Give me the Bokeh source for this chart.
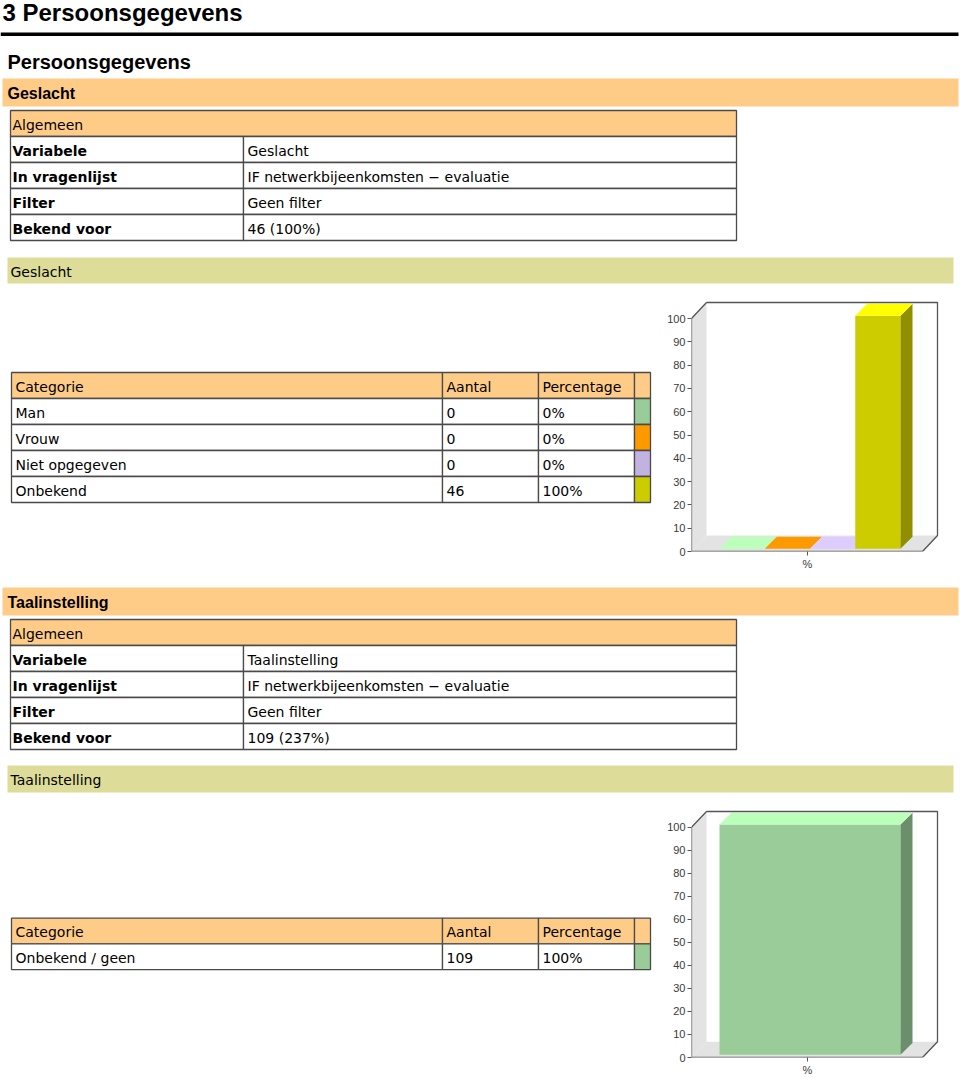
from bokeh.plotting import figure
from bokeh.layouts import column, row
from bokeh.models import Range1d, FixedTicker, CustomJSTickFormatter
from bokeh.core.properties import value
from bokeh.embed import file_html
from bokeh.resources import INLINE

# ---------------- data ----------------
PAGE_TITLE = "3 Persoonsgegevens"
SECTION_TITLE = "Persoonsgegevens"
INFO_HEADER = "Algemeen"
INFO_LABELS = ["Variabele", "In vragenlijst", "Filter", "Bekend voor"]

GESLACHT_TITLE = "Geslacht"
GESLACHT_INFO = ["Geslacht", "IF netwerkbijeenkomsten \u2212 evaluatie", "Geen filter", "46 (100%)"]
GENDER_CATS = ["Man", "Vrouw", "Niet opgegeven", "Onbekend"]
GENDER_COUNTS = [0, 0, 0, 46]
GENDER_PCTS = [0, 0, 0, 100]
GENDER_FRONT = ["#99CC99", "#FF9900", "#C2B2E2", "#CCCC00"]
GENDER_TOP = ["#BBFFBB", "#FF9900", "#DDCCFF", "#FFFF00"]
GENDER_SIDE = ["#6B8F6B", "#B36B00", "#887CA0", "#8F8F00"]

TAAL_TITLE = "Taalinstelling"
TAAL_INFO = ["Taalinstelling", "IF netwerkbijeenkomsten \u2212 evaluatie", "Geen filter", "109 (237%)"]
TAAL_CATS = ["Onbekend / geen"]
TAAL_COUNTS = [109]
TAAL_PCTS = [100]
TAAL_FRONT = ["#99CC99"]
TAAL_TOP = ["#BBFFBB"]
TAAL_SIDE = ["#6B8F6B"]

CAT_HEADERS = ["Categorie", "Aantal", "Percentage"]
Y_TICKS = [0, 10, 20, 30, 40, 50, 60, 70, 80, 90, 100]
X_LABEL = "%"

# ---------------- styles ----------------
S = 1.0
ORANGE = "#FFCC88"
OLIVE = "#DDDD99"
BORDER = "#4A4A4A"
DOC_FONT = value("DejaVu Sans")
HEAD_FONT = value("Liberation Sans")


def fs(px):
    return f"{px * S:.2f}px"


def doc_fig(x0, y0, w, h, mbt=0, mbb=0):
    p = figure(width=w, height=h,
               x_range=Range1d(x0, x0 + w / S),
               y_range=Range1d(y0 + (h - mbb) / S, y0 + mbt / S),
               x_axis_type=None, y_axis_type=None, min_border=0,
               min_border_top=mbt, min_border_bottom=mbb,
               output_backend="svg", toolbar_location=None)
    p.outline_line_color = None
    p.background_fill_color = "white"
    p.border_fill_color = "white"
    return p


def txt(p, xs, ys, texts, size=14, font=DOC_FONT, bold=False, color="black"):
    # ys are baselines; place the text by its middle
    ym = [y - 0.35 * size for y in ys]
    p.text(x=xs, y=ym, text=texts, text_font=font, text_font_size=fs(size),
           text_font_style="bold" if bold else "normal", text_color=color,
           text_baseline="middle", text_align="left")


def band(p, x0, x1, y0, y1, color, label, bold, size, font, tx, ty):
    p.quad(left=[x0], right=[x1], top=[y0], bottom=[y1], fill_color=color, line_color=None)
    txt(p, [tx], [ty], [label], size=size, font=font, bold=bold)


def info_table(p, top, labels, values):
    x0, xs, x1, rh = 10, 243, 736, 26
    L, R, T, B, F = [x0], [x1], [top], [top + rh], [ORANGE]
    for i in range(len(labels)):
        t = top + rh * (i + 1)
        L += [x0, xs]; R += [xs, x1]; T += [t, t]; B += [t + rh, t + rh]; F += ["white", "white"]
    p.quad(left=L, right=R, top=T, bottom=B, fill_color=F, line_color=BORDER, line_width=1.3)
    txt(p, [x0 + 2], [top + 19.5], [INFO_HEADER])
    ys = [top + rh * (i + 1) + 19.5 for i in range(len(labels))]
    txt(p, [x0 + 2] * len(labels), ys, labels, bold=True)
    txt(p, [xs + 4] * len(values), ys, values)


def cat_table(p, top, cats, counts, pcts, colors):
    cols = [11, 442, 538, 634, 650]
    rh = 26
    L, R, T, B, F = [], [], [], [], []
    for r in range(len(cats) + 1):
        t = top + rh * r
        for c in range(4):
            L.append(cols[c]); R.append(cols[c + 1]); T.append(t); B.append(t + rh)
            if r == 0:
                F.append(ORANGE)
            else:
                F.append(colors[r - 1] if c == 3 else "white")
    p.quad(left=L, right=R, top=T, bottom=B, fill_color=F, line_color=BORDER, line_width=1.3)
    txt(p, [cols[0] + 4, cols[1] + 4, cols[2] + 4], [top + 19] * 3, CAT_HEADERS)
    ys = [top + rh * (i + 1) + 19 for i in range(len(cats))]
    txt(p, [cols[0] + 4] * len(cats), ys, cats)
    txt(p, [cols[1] + 4] * len(cats), ys, [str(c) for c in counts])
    txt(p, [cols[2] + 4] * len(cats), ys, [f"{v}%" for v in pcts])


def chart_fig(W, H, mbl, mbr, mbt, mbb, pcts, fronts, tops, sides):
    n = len(pcts)
    frame_w = W - mbl - mbr
    frame_h = H - mbt - mbb
    ppu_y = 233 * S / 100.0          # screen px per percent
    px_slot = 181 * S / n            # screen px per bar slot
    x_start = -0.5 - 25.5 * S / px_slot
    x_end = x_start + frame_w / px_slot
    y_end = frame_h / ppu_y
    x_axis_r = x_start + 231 * S / px_slot

    def dx(px):
        return px * S / px_slot

    def dy(px):
        return px * S / ppu_y

    p = figure(width=W, height=H, x_range=Range1d(x_start, x_end), y_range=Range1d(0, y_end),
               min_border_left=mbl, min_border_right=mbr, min_border_top=mbt, min_border_bottom=mbb,
               output_backend="svg", toolbar_location=None)
    p.grid.visible = False
    p.outline_line_color = None
    p.yaxis.ticker = FixedTicker(ticks=Y_TICKS)
    p.xaxis.ticker = FixedTicker(ticks=[(n - 1) / 2.0])
    p.xaxis.formatter = CustomJSTickFormatter(code=f"return '{X_LABEL}';")
    for ax in (p.xaxis, p.yaxis):
        ax.axis_line_color = None
        ax.major_tick_in = 0
        ax.major_tick_out = 4
        ax.major_tick_line_color = "#555555"
        ax.minor_tick_line_color = None
        ax.major_label_standoff = 2
        ax.major_label_text_font = "Liberation Sans"
        ax.major_label_text_font_size = fs(11)
        ax.major_label_text_color = "#3A3A3A"

    wx, wy = dx(15), dy(16)
    top_v = 100
    # left wall and floor
    p.patches(xs=[[x_start, x_start + wx, x_start + wx, x_start],
                  [x_start, x_start + wx, x_axis_r + wx, x_axis_r]],
              ys=[[0, wy, top_v + wy, top_v],
                  [0, wy, wy, 0]],
              fill_color="#E3E3E3", line_color=None)

    # bars (front, side, top faces)
    fx, fy = dx(2.5), dy(2.7)
    bx, by = dx(12), dy(12)
    xs, ys, cs = [], [], []
    for i, v in enumerate(pcts):
        l = i - 0.5 + fx
        r = i + 0.5 + fx
        b = fy
        t = v + fy
        xs.append([l, r, r, l]); ys.append([b, b, t, t]); cs.append(fronts[i])
        xs.append([r, r + bx, r + bx, r]); ys.append([b, b + by, t + by, t]); cs.append(sides[i])
        xs.append([l, l + bx, r + bx, r]); ys.append([t, t + by, t + by, t]); cs.append(tops[i])
    p.patches(xs=xs, ys=ys, fill_color=cs, line_color=None)

    # outlines of the 3D box
    lc = "#555555"
    p.line(x=[x_start + wx, x_axis_r + wx, x_axis_r + wx, x_axis_r, x_start, x_start, x_start + wx],
           y=[top_v + wy, top_v + wy, wy, 0, 0, top_v, top_v + wy],
           line_color=lc, line_width=1.3)
    return p


# ---------------- layout ----------------
W_LEFT, W_CHART = 652, 308
H_A, H_B, H_C, H_D = 296, 284, 226, 272
y_a = 0.0
y_b = H_A / S
y_c = (H_A + H_B) / S
y_d = (H_A + H_B + H_C) / S
B_MBT, B_MBB = 4, 29
D_MBT, D_MBB = 3, 18

# Section A
pa = doc_fig(0, y_a, W_LEFT + W_CHART, H_A)
txt(pa, [2], [20], [PAGE_TITLE], size=24, font=HEAD_FONT, bold=True)
pa.quad(left=[0], right=[958], top=[32], bottom=[35.5], fill_color="black", line_color=None)
txt(pa, [7], [68.5], [SECTION_TITLE], size=20, font=HEAD_FONT, bold=True)
band(pa, 2, 958, 78, 106, ORANGE, GESLACHT_TITLE, True, 16, HEAD_FONT, 7, 99)
info_table(pa, 110, INFO_LABELS, GESLACHT_INFO)
band(pa, 7, 953, 257, 283, OLIVE, GESLACHT_TITLE, False, 14, DOC_FONT, 10, 276)

# Row B
pb = doc_fig(0, y_b, W_LEFT, H_B, B_MBT, B_MBB)
cat_table(pb, 372, GENDER_CATS, GENDER_COUNTS, GENDER_PCTS, GENDER_FRONT)
cb = chart_fig(W_CHART, H_B, 39, 14, B_MBT, B_MBB, GENDER_PCTS, GENDER_FRONT, GENDER_TOP, GENDER_SIDE)

# Section C
pc = doc_fig(0, y_c, W_LEFT + W_CHART, H_C)
band(pc, 2, 958, 587, 615, ORANGE, TAAL_TITLE, True, 16, HEAD_FONT, 7, 608)
info_table(pc, 619, INFO_LABELS, TAAL_INFO)
band(pc, 7, 953, 765, 792, OLIVE, TAAL_TITLE, False, 14, DOC_FONT, 10, 784)

# Row D
pd = doc_fig(0, y_d, W_LEFT, H_D, D_MBT, D_MBB)
cat_table(pd, 919, TAAL_CATS, TAAL_COUNTS, TAAL_PCTS, TAAL_FRONT)
cd = chart_fig(W_CHART, H_D, 39, 14, D_MBT, D_MBB, TAAL_PCTS, TAAL_FRONT, TAAL_TOP, TAAL_SIDE)

layout = column(pa, row(pb, cb, spacing=0), pc, row(pd, cd, spacing=0), spacing=0)

open("out.html", "w").write(file_html(layout, INLINE))
